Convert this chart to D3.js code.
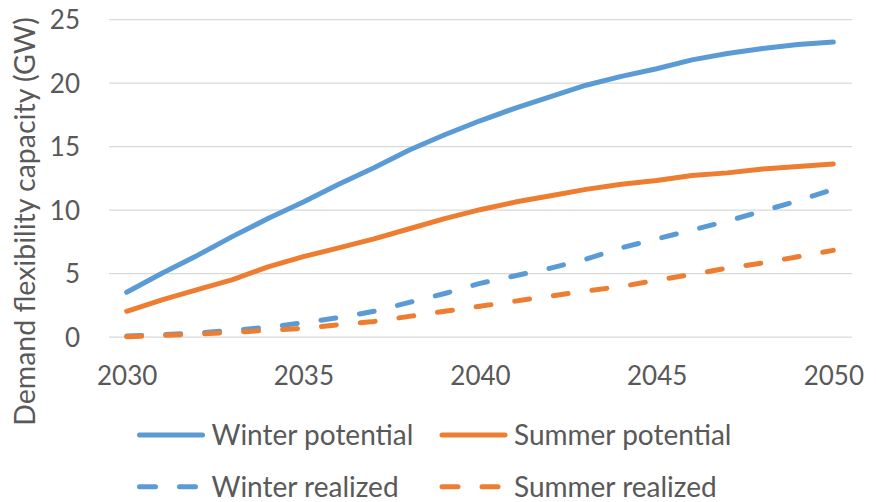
<!DOCTYPE html>
<html><head><meta charset="utf-8">
<script src="https://cdn.jsdelivr.net/npm/d3@7/dist/d3.min.js"></script>
<style>
html,body{margin:0;padding:0;background:#fff;}
svg{display:block;}
text{font-family:Lato,"Open Sans",sans-serif;fill:#595959;}
</style></head>
<body><svg id="c" width="876" height="502"></svg>
<script>
const years = d3.range(2030, 2051);
const winterPotential = [3.5,5.0,6.4,7.9,9.3,10.6,12.0,13.3,14.7,15.9,17.0,18.0,18.9,19.8,20.5,21.1,21.8,22.3,22.7,23.0,23.2];
const summerPotential = [2.0,2.9,3.7,4.5,5.5,6.3,7.0,7.7,8.5,9.3,10.0,10.6,11.1,11.6,12.0,12.3,12.7,12.9,13.2,13.4,13.6];
const winterRealized = [0.05,0.15,0.3,0.5,0.75,1.1,1.5,2.0,2.7,3.4,4.2,4.8,5.4,6.1,7.0,7.7,8.4,9.1,9.9,10.7,11.6];
const summerRealized = [0,0.1,0.2,0.35,0.5,0.65,0.95,1.2,1.6,2.0,2.4,2.8,3.2,3.6,3.95,4.45,4.9,5.4,5.8,6.3,6.8];
const yTicks = [0,5,10,15,20,25];
const xTicks = [2030,2035,2040,2045,2050];
const seriesNames = ["Winter potential","Summer potential","Winter realized","Summer realized"];
const seriesColors = ["#5B9BD5","#ED7D31","#5B9BD5","#ED7D31"];
const seriesDashed = [false,false,true,true];
const seriesValues = [winterPotential, summerPotential, winterRealized, summerRealized];

const svg = d3.select("#c");
const plotLeft = 109, plotRight = 852;
const x = d3.scaleLinear().domain([2030,2050]).range([126.7,833.3]);
const y = d3.scaleLinear().domain([0,25]).range([336.7,19.2]);

// y axis + gridlines
const ya = svg.append("g").attr("transform",`translate(${plotLeft},0)`)
  .call(d3.axisLeft(y).tickValues(yTicks).tickSize(-(plotRight-plotLeft)).tickPadding(29));
ya.select(".domain").remove();
ya.selectAll(".tick line").attr("stroke","#D9D9D9").attr("stroke-width",1.3);
ya.selectAll(".tick text").attr("font-size",26).attr("fill","#595959").attr("dy","0.36em");

// x axis
const xa = svg.append("g").attr("transform",`translate(0,${y(0)})`)
  .call(d3.axisBottom(x).tickValues(xTicks).tickFormat(d3.format("d")).tickSize(0).tickPadding(0));
xa.select(".domain").remove();
xa.selectAll(".tick text").attr("font-size",26).attr("fill","#595959").attr("y",39).attr("dy","0.36em");

// y title
svg.append("text").attr("transform","translate(35,221.5) rotate(-90)")
  .attr("text-anchor","middle").attr("font-size",28.5)
  .text("Demand flexibility capacity (GW)");

// lines
const line = d3.line().x((d,i)=>x(years[i])).y(d=>y(d));
seriesValues.forEach((vals,k)=>{
  svg.append("path").attr("d",line(vals)).attr("fill","none")
    .attr("stroke",seriesColors[k]).attr("stroke-width",5)
    .attr("stroke-linecap","round").attr("stroke-linejoin","round")
    .attr("stroke-dasharray",seriesDashed[k]?"15,24":null);
});

// legend
const legPos = [[139.5,435],[442,435],[139.5,486.7],[442,486.7]];
seriesNames.forEach((name,k)=>{
  const [lx,ly] = legPos[k];
  svg.append("line").attr("x1",lx).attr("x2",lx+63).attr("y1",ly).attr("y2",ly)
    .attr("stroke",seriesColors[k]).attr("stroke-width",5).attr("stroke-linecap","round")
    .attr("stroke-dasharray",seriesDashed[k]?"16,24":null);
  svg.append("text").attr("x",lx+72).attr("y",ly+10)
    .attr("font-size",28).text(name);
});
</script></body></html>
